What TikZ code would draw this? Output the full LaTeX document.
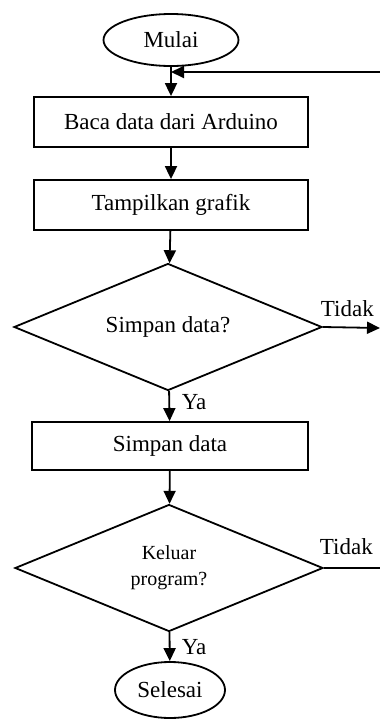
\documentclass[tikz,border=0pt]{standalone}
\usepackage{fontspec}
\setmainfont{Liberation Serif}
\usetikzlibrary{shapes.geometric,arrows.meta}
\begin{document}
\begin{tikzpicture}[x=1pt,y=-1pt,line width=1.8pt,
  >={Triangle[length=13pt,width=12pt]},
  txt/.style={font=\fontsize{23}{26}\selectfont},
  term/.style={ellipse,draw,txt,inner sep=0pt},
  proc/.style={rectangle,draw,txt,inner sep=0pt,minimum width=274pt,minimum height=50pt},
  dec/.style={diamond,aspect=2.4,draw,txt,inner sep=0pt,minimum width=308pt,minimum height=127pt},
  lbl/.style={txt,inner sep=0pt,anchor=west}]
\useasboundingbox (0,0) rectangle (380,720);
\node[term,minimum width=135pt,minimum height=52pt] (start) at (171,40) {Mulai};
\node[proc] (baca) at (171,122) {Baca data dari Arduino};
\node[proc] (tampil) at (171,205) {Tampilkan grafik};
\node[dec] (d1) at (168,327) {Simpan data?};
\node[proc,minimum width=276pt,minimum height=48pt] (simpan) at (170,446) {Simpan data};
\node[dec,font=\fontsize{20}{26}\selectfont,align=center] (d2) at (169,568) {Keluar\\program?};
\node[term,minimum width=110pt,minimum height=56pt] (end) at (170,690) {Selesai};
\coordinate (fbR) at (380,72);
\coordinate (fbL) at (171,72);
\coordinate (t1) at (380,328);
\coordinate (t2) at (380,568);
\draw[->] (start) -- (baca);
\draw[->] (fbR) -- (fbL);
\draw[->] (baca) -- (tampil);
\draw[->] (tampil) -- (d1);
\draw[->] (d1.east) -- (t1);
\draw[->] (d1) -- (simpan);
\draw[->] (simpan) -- (d2);
\draw (d2.east) -- (t2);
\draw[->] (d2) -- (end);
\node[lbl] (tidak1) at (320,309) {Tidak};
\node[lbl] (ya1) at (181,402) {Ya};
\node[lbl] (tidak2) at (319,547) {Tidak};
\node[lbl] (ya2) at (181,647) {Ya};
\end{tikzpicture}
\end{document}
